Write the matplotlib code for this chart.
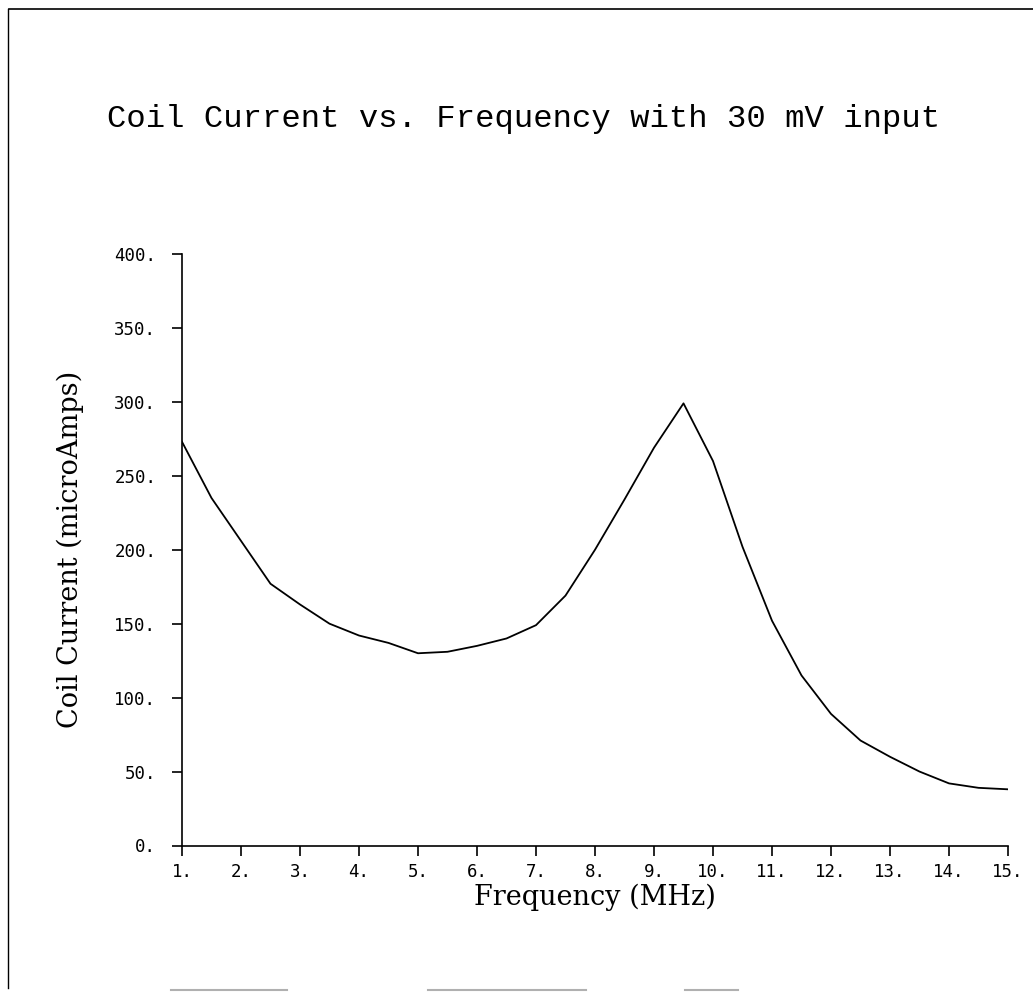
import matplotlib
matplotlib.use("Agg")
import matplotlib.pyplot as plt
from matplotlib.lines import Line2D

# coil current measured across the sweep, 30 mV drive
freq_mhz = [1, 1.5, 2, 2.5, 3, 3.5, 4, 4.5, 5, 5.5, 6, 6.5, 7, 7.5, 8,
            8.5, 9, 9.5, 10, 10.5, 11, 11.5, 12, 12.5, 13, 13.5, 14, 14.5, 15]
current_ua = [273, 235, 206, 177, 163, 150, 142, 137, 130, 131, 135, 140, 149, 169, 200,
              234, 269, 299, 260, 202, 152, 115, 89, 71, 60, 50, 42, 39, 38]

x_ticks = list(range(1, 16))
x_labels = ["%d." % v for v in x_ticks]
y_ticks = list(range(0, 401, 50))
y_labels = ["%d." % v for v in y_ticks]

W, H = 1033, 993
fig = plt.figure(figsize=(W / 100, H / 100), dpi=100)
fig.patch.set_facecolor("white")

ax = fig.add_axes([182 / W, 1 - 845.5 / H, (1008 - 182) / W, (845.5 - 254) / H])
ax.plot(freq_mhz, current_ua, color="black", linewidth=1.3)

ax.set_xlim(1, 15)
ax.set_ylim(0, 400)
ax.set_xticks(x_ticks)
ax.set_xticklabels(x_labels)
ax.set_yticks(y_ticks)
ax.set_yticklabels(y_labels)

ax.spines["top"].set_visible(False)
ax.spines["right"].set_visible(False)
for s in ("left", "bottom"):
    ax.spines[s].set_linewidth(1.2)
ax.tick_params(axis="both", direction="out", length=7.5, width=1.2,
               labelsize=12.5, colors="black")
ax.tick_params(axis="x", pad=5)
ax.tick_params(axis="y", pad=11)
for lab in ax.get_xticklabels() + ax.get_yticklabels():
    lab.set_family("DejaVu Sans Mono")

ax.set_xlabel("Frequency (MHz)", family="DejaVu Serif", fontsize=19.5, labelpad=2)
ax.set_ylabel("Coil Current (microAmps)", family="DejaVu Serif", fontsize=19.5, labelpad=22)

fig.text(524 / W, 1 - 119 / H, "Coil Current vs. Frequency with 30 mV input",
         family="Liberation Mono", fontsize=23.2, ha="center", va="center")

# page frame from the scanned sheet
fig.add_artist(Line2D([9 / W, 1], [1 - 9 / H, 1 - 9 / H], color="black", linewidth=1.2))
fig.add_artist(Line2D([8 / W, 8 / W], [1 - 9 / H, 1 - 988 / H], color="black", linewidth=1.0))
for x0, x1 in [(171, 287), (428, 586), (685, 738)]:
    fig.add_artist(Line2D([x0 / W, x1 / W], [1 - 990 / H, 1 - 990 / H],
                          color="#b0b0b0", linewidth=1.5))

fig.savefig("out.png", dpi=100)
